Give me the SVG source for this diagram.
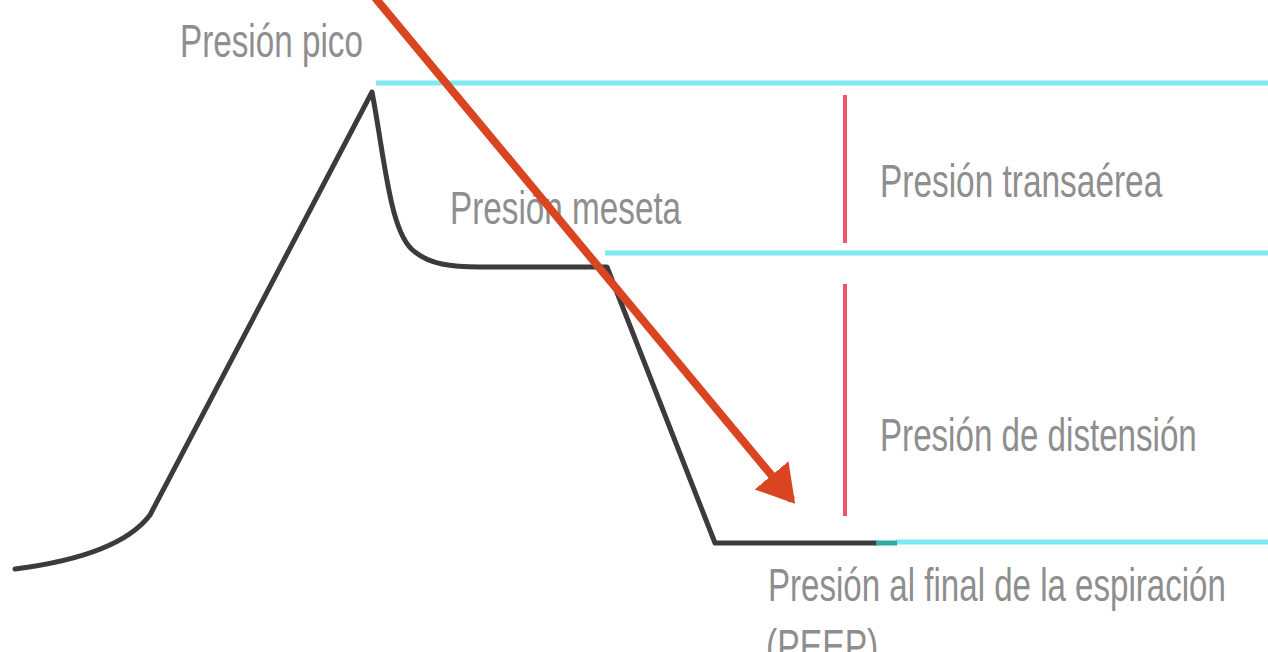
<svg xmlns="http://www.w3.org/2000/svg" width="1268" height="652" viewBox="0 0 1268 652">
<style>
.lbl{font-family:"Liberation Sans",Arial,sans-serif;font-size:46px;fill:#8e8e8e}
.cyan{stroke:#7fe9f2;stroke-width:5;fill:none}
.red{stroke:#f0566e;stroke-width:4;fill:none}
.curve{stroke:#3b3b3d;stroke-width:5;fill:none;stroke-linejoin:round;stroke-linecap:round}
</style>
<defs>
<marker id="ah" markerWidth="6" markerHeight="6" refX="4" refY="2.75" orient="auto" markerUnits="strokeWidth">
<path d="M0,0 L4.6,2.75 L0,5.5 z" fill="#d94520"/>
</marker>
</defs>
<rect width="1268" height="652" fill="#ffffff"/>
<g id="levels">
<line class="cyan" x1="376" y1="83" x2="1268" y2="83"/>
<line class="cyan" x1="605" y1="253" x2="1268" y2="253"/>
<line class="cyan" x1="896" y1="542" x2="1268" y2="542"/>
</g>
<g id="curve">
<path class="curve" d="M15,569 C70,562 125,548 150,515 L372,92 C385,160 390,235 415,252 C430,264 450,267 480,267 L607,267 L715,543 L876,543"/>
<line x1="876" y1="543" x2="897" y2="543" stroke="#2fa8a6" stroke-width="5"/>
</g>
<g id="brackets">
<line class="red" x1="845" y1="95" x2="845" y2="243"/>
<line class="red" x1="845" y1="284" x2="845" y2="516"/>
</g>
<g id="labels">
<text class="lbl" transform="translate(180,57) scale(0.72,1)" textLength="254" lengthAdjust="spacingAndGlyphs">Presión pico</text>
<text class="lbl" transform="translate(450,224) scale(0.72,1)" textLength="321" lengthAdjust="spacingAndGlyphs">Presión meseta</text>
<text class="lbl" transform="translate(880,197) scale(0.72,1)" textLength="392" lengthAdjust="spacingAndGlyphs">Presión transaérea</text>
<text class="lbl" transform="translate(880,451) scale(0.72,1)" textLength="440" lengthAdjust="spacingAndGlyphs">Presión de distensión</text>
<text class="lbl" transform="translate(768,601) scale(0.72,1)" textLength="636" lengthAdjust="spacingAndGlyphs">Presión al final de la espiración</text>
<text class="lbl" transform="translate(766,662) scale(0.72,1)" textLength="156" lengthAdjust="spacingAndGlyphs">(PEEP)</text>
</g>
<g id="connectors">
<line x1="372" y1="-6" x2="792" y2="500" stroke="#d94520" stroke-width="8" marker-end="url(#ah)"/>
</g>
</svg>
